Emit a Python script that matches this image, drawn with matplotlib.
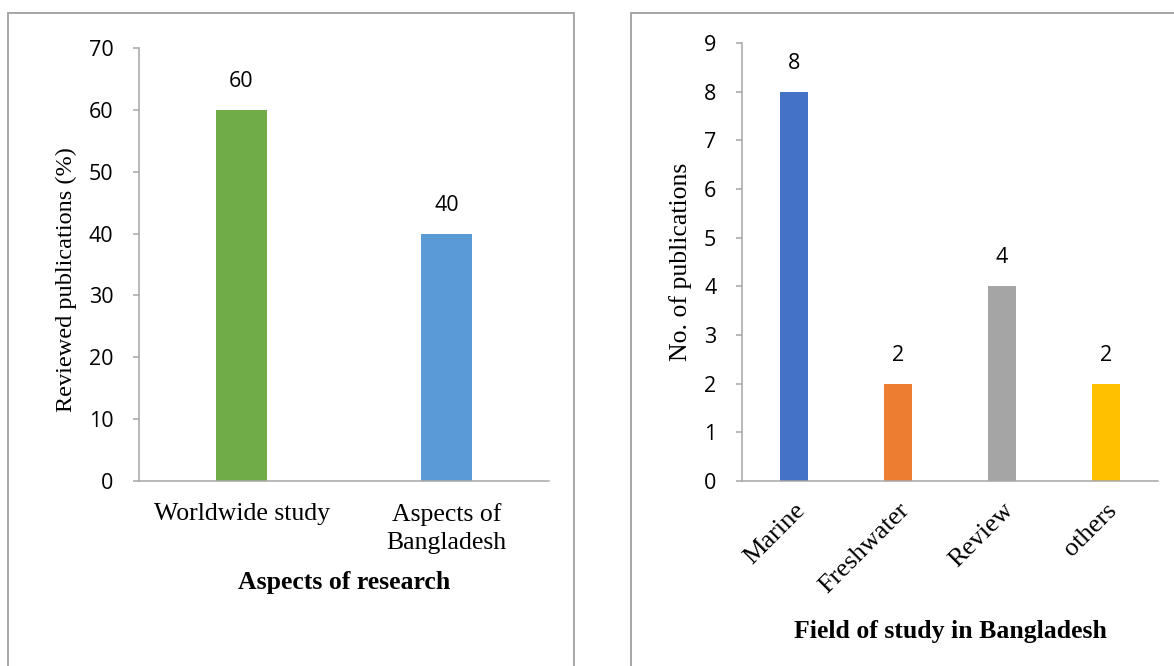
import matplotlib
matplotlib.use("Agg")
from matplotlib import pyplot as plt
from matplotlib.patches import Rectangle

# left panel data
aspects = ['Worldwide study', 'Aspects of\nBangladesh']
aspect_pct = [60, 40]
aspect_colors = ['#70ad47', '#5b9bd5']

# right panel data
fields = ['Marine', 'Freshwater', 'Review', 'others']
field_counts = [8, 2, 4, 2]
field_colors = ['#4472c4', '#ed7d31', '#a5a5a5', '#ffc000']

grey = '#a6a6a6'
serif = 'Liberation Serif'
sans = 'Open Sans'

fig = plt.figure(figsize=(11.74, 6.66), dpi=100)

# panel frames
fig.patches.append(Rectangle((8/1174, -0.1), 566/1174, 1.1 - 13/666,
                             transform=fig.transFigure, fill=False,
                             edgecolor=grey, lw=1.4))
fig.patches.append(Rectangle((631/1174, -0.1), 0.6, 1.1 - 13/666,
                             transform=fig.transFigure, fill=False,
                             edgecolor=grey, lw=1.4))

ax1 = fig.add_axes([139/1174, 1 - 481/666, 410/1174, 433/666])
ax2 = fig.add_axes([742/1174, 1 - 481/666, 416/1174, 438/666])


def style(ax, ymax):
    ax.set_ylim(0, ymax)
    ax.set_yticks(range(0, ymax + 1, 10 if ymax > 10 else 1))
    for s in ['top', 'right']:
        ax.spines[s].set_visible(False)
    for s in ['left', 'bottom']:
        ax.spines[s].set_color(grey)
        ax.spines[s].set_linewidth(1.1)
    ax.tick_params(axis='y', length=4.5, width=1.1, color=grey, pad=14,
                   labelsize=15.5)
    ax.tick_params(axis='x', length=0)
    for lab in ax.get_yticklabels():
        lab.set_fontfamily(sans)


# left chart
x1 = range(len(aspects))
ax1.bar(x1, aspect_pct, width=0.25, color=aspect_colors)
ax1.set_xlim(-0.5, len(aspects) - 0.5)
style(ax1, 70)
ax1.set_xticks(list(x1))
ax1.set_xticklabels(aspects, fontfamily=serif, fontsize=18.5, linespacing=1.35)
ax1.tick_params(axis='x', pad=16)
for xi, v in zip(x1, aspect_pct):
    ax1.annotate(str(v), (xi, v), xytext=(0, 13), textcoords='offset points',
                 ha='center', va='bottom', fontsize=15.5, fontfamily=sans)
ax1.set_ylabel('Reviewed publications (%)', fontfamily=serif, fontsize=17.5)
ax1.yaxis.set_label_coords(-0.151, 0.465)
ax1.set_xlabel('Aspects of research', fontfamily=serif, fontsize=18.5,
               fontweight='bold', labelpad=12)

# right chart
x2 = range(len(fields))
ax2.bar(x2, field_counts, width=0.26, color=field_colors)
ax2.set_xlim(-0.5, len(fields) - 0.5)
style(ax2, 9)
ax2.set_xticks(list(x2))
ax2.set_xticklabels(fields, fontfamily=serif, fontsize=19, rotation=45,
                    ha='right', rotation_mode='anchor')
ax2.tick_params(axis='x', pad=13)
for xi, v in zip(x2, field_counts):
    ax2.annotate(str(v), (xi, v), xytext=(0, 13), textcoords='offset points',
                 ha='center', va='bottom', fontsize=15.5, fontfamily=sans)
ax2.set_ylabel('No. of publications', fontfamily=serif, fontsize=18.5)
ax2.yaxis.set_label_coords(-0.12, 0.5)
ax2.set_xlabel('Field of study in Bangladesh', fontfamily=serif, fontsize=18.5,
               fontweight='bold', labelpad=16)

fig.savefig('out.png', dpi=100)
